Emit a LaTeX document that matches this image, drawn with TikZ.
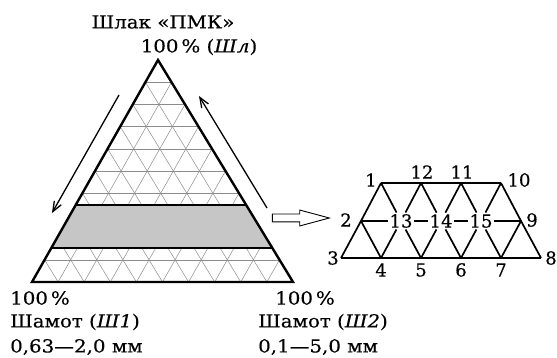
\documentclass[tikz,border=0pt]{standalone}
\usepackage{fontspec}
\setmainfont{DejaVu Serif}[FakeStretch=1.1, FakeBold=0.4]
\newfontfamily\numfont{DejaVu Serif}[FakeBold=0.4]
\usepackage{tikz}
\usetikzlibrary{arrows.meta, shapes.arrows, calc, positioning}

\definecolor{pmGrid}{HTML}{8C8C8C}
\definecolor{pmBand}{HTML}{C6C6C6}

\tikzset{
  gridline/.style={pmGrid, line width=0.5pt},
  outline/.style={line width=2.4pt, line join=miter},
  bandline/.style={line width=2pt},
  flowarrow/.style={-{Straight Barb[length=3.5mm, width=2.8mm]}, line width=1.3pt},
  hollowarrow/.style={
    draw, single arrow, single arrow head extend=4pt, single arrow tip angle=30,
    minimum height=57pt, minimum width=15pt, inner sep=3.5pt, line width=0.9pt
  },
  lbl/.style={font=\numfont\fontsize{18}{21}\selectfont, inner sep=1pt},
  midnode/.style={lbl, inner sep=1.5pt},
  truss/.style={line width=1.7pt},
  caption/.style={font=\fontsize{18}{21}\selectfont, inner sep=0pt, anchor=west}
}

\begin{document}
\begin{tikzpicture}[x=1pt, y=-1pt]
  \useasboundingbox (0,0) rectangle (557,358);

  % ternary triangle
  \coordinate (A) at (158,60);
  \coordinate (B) at (32,282);
  \coordinate (C) at (293,282);

  \foreach \k in {1,...,9} {
    \pgfmathsetmacro{\t}{\k/10}
    \pgfmathsetmacro{\s}{1-\k/10}
    \draw[gridline] ($(A)!\t!(B)$) -- ($(A)!\t!(C)$);
    \draw[gridline] ($(B)!\t!(C)$) -- ($(B)!\t!(A)$);
    \draw[gridline] ($(B)!\t!(C)$) -- ($(C)!\s!(A)$);
  }

  \coordinate (b1) at ($(A)!0.653!(B)$);
  \coordinate (b2) at ($(A)!0.653!(C)$);
  \coordinate (b3) at ($(A)!0.845!(C)$);
  \coordinate (b4) at ($(A)!0.845!(B)$);
  \fill[pmBand] (b1) -- (b2) -- (b3) -- (b4) -- cycle;
  \draw[bandline] (b1) -- (b2);
  \draw[bandline] (b4) -- (b3);
  \draw[outline] (A) -- (B) -- (C) -- cycle;

  \coordinate (la) at (119,95);
  \coordinate (lb) at (52,213);
  \coordinate (ra) at (267,208);
  \coordinate (rb) at (199,96);
  \draw[flowarrow] (la) -- (lb);
  \draw[flowarrow] (ra) -- (rb);

  \node[hollowarrow] (conv) at (293.5,218) {};

  % captions
  \node[caption, anchor=center] (slag) at (163,22) {Шлак «ПМК»};
  \node[caption, anchor=center] (pctT) at (199,47) {100\,\% (\textit{Шл})};
  \node[caption] (pctL) at (10,298) {100\,\%};
  \node[caption] (chL) at (10,322) {Шамот (\textit{Ш1})};
  \node[caption] (szL) at (10,347) {0,63—2,0 мм};
  \node[caption] (pctR) at (275,298) {100\,\%};
  \node[caption] (chR) at (258,322) {Шамот (\textit{Ш2})};
  \node[caption] (szR) at (258,347) {0,1—5,0 мм};

  % truss
  \coordinate (n1) at (381,183);
  \coordinate (n12) at (421,183);
  \coordinate (n11) at (461,183);
  \coordinate (n10) at (501,183);
  \coordinate (n2) at (361,221);
  \node[midnode] (n13) at (401,221) {13};
  \node[midnode] (n14) at (441,221) {14};
  \node[midnode] (n15) at (481,221) {15};
  \coordinate (n9) at (521,221);
  \coordinate (n3) at (341,258);
  \coordinate (n4) at (381,258);
  \coordinate (n5) at (421,258);
  \coordinate (n6) at (461,258);
  \coordinate (n7) at (501,258);
  \coordinate (n8) at (541,258);

  \draw[truss] (n1) -- (n10);
  \draw[truss] (n3) -- (n8);
  \draw[truss] (n2) -- (n13) -- (n14) -- (n15) -- (n9);
  \draw[truss] (n1) -- (n2) -- (n3);
  \draw[truss] (n10) -- (n9) -- (n8);
  \draw[truss] (n1) -- (n13) (n12) -- (n13) (n12) -- (n14) (n11) -- (n14)
    (n11) -- (n15) (n10) -- (n15);
  \draw[truss] (n2) -- (n4) (n13) -- (n4) (n13) -- (n5) (n14) -- (n5)
    (n14) -- (n6) (n15) -- (n6) (n15) -- (n7) (n9) -- (n7);

  \node[lbl] (t1) at (371,180) {1};
  \node[lbl] (t12) at (422,172) {12};
  \node[lbl] (t11) at (462,172) {11};
  \node[lbl] (t10) at (519,180) {10};
  \node[lbl] (t2) at (346,220) {2};
  \node[lbl] (t9) at (532,220) {9};
  \node[lbl] (t3) at (333,258) {3};
  \node[lbl] (t8) at (551,258) {8};
  \node[lbl] (t4) at (381,270) {4};
  \node[lbl] (t5) at (421,270) {5};
  \node[lbl] (t6) at (461,270) {6};
  \node[lbl] (t7) at (501,270) {7};
\end{tikzpicture}
\end{document}
